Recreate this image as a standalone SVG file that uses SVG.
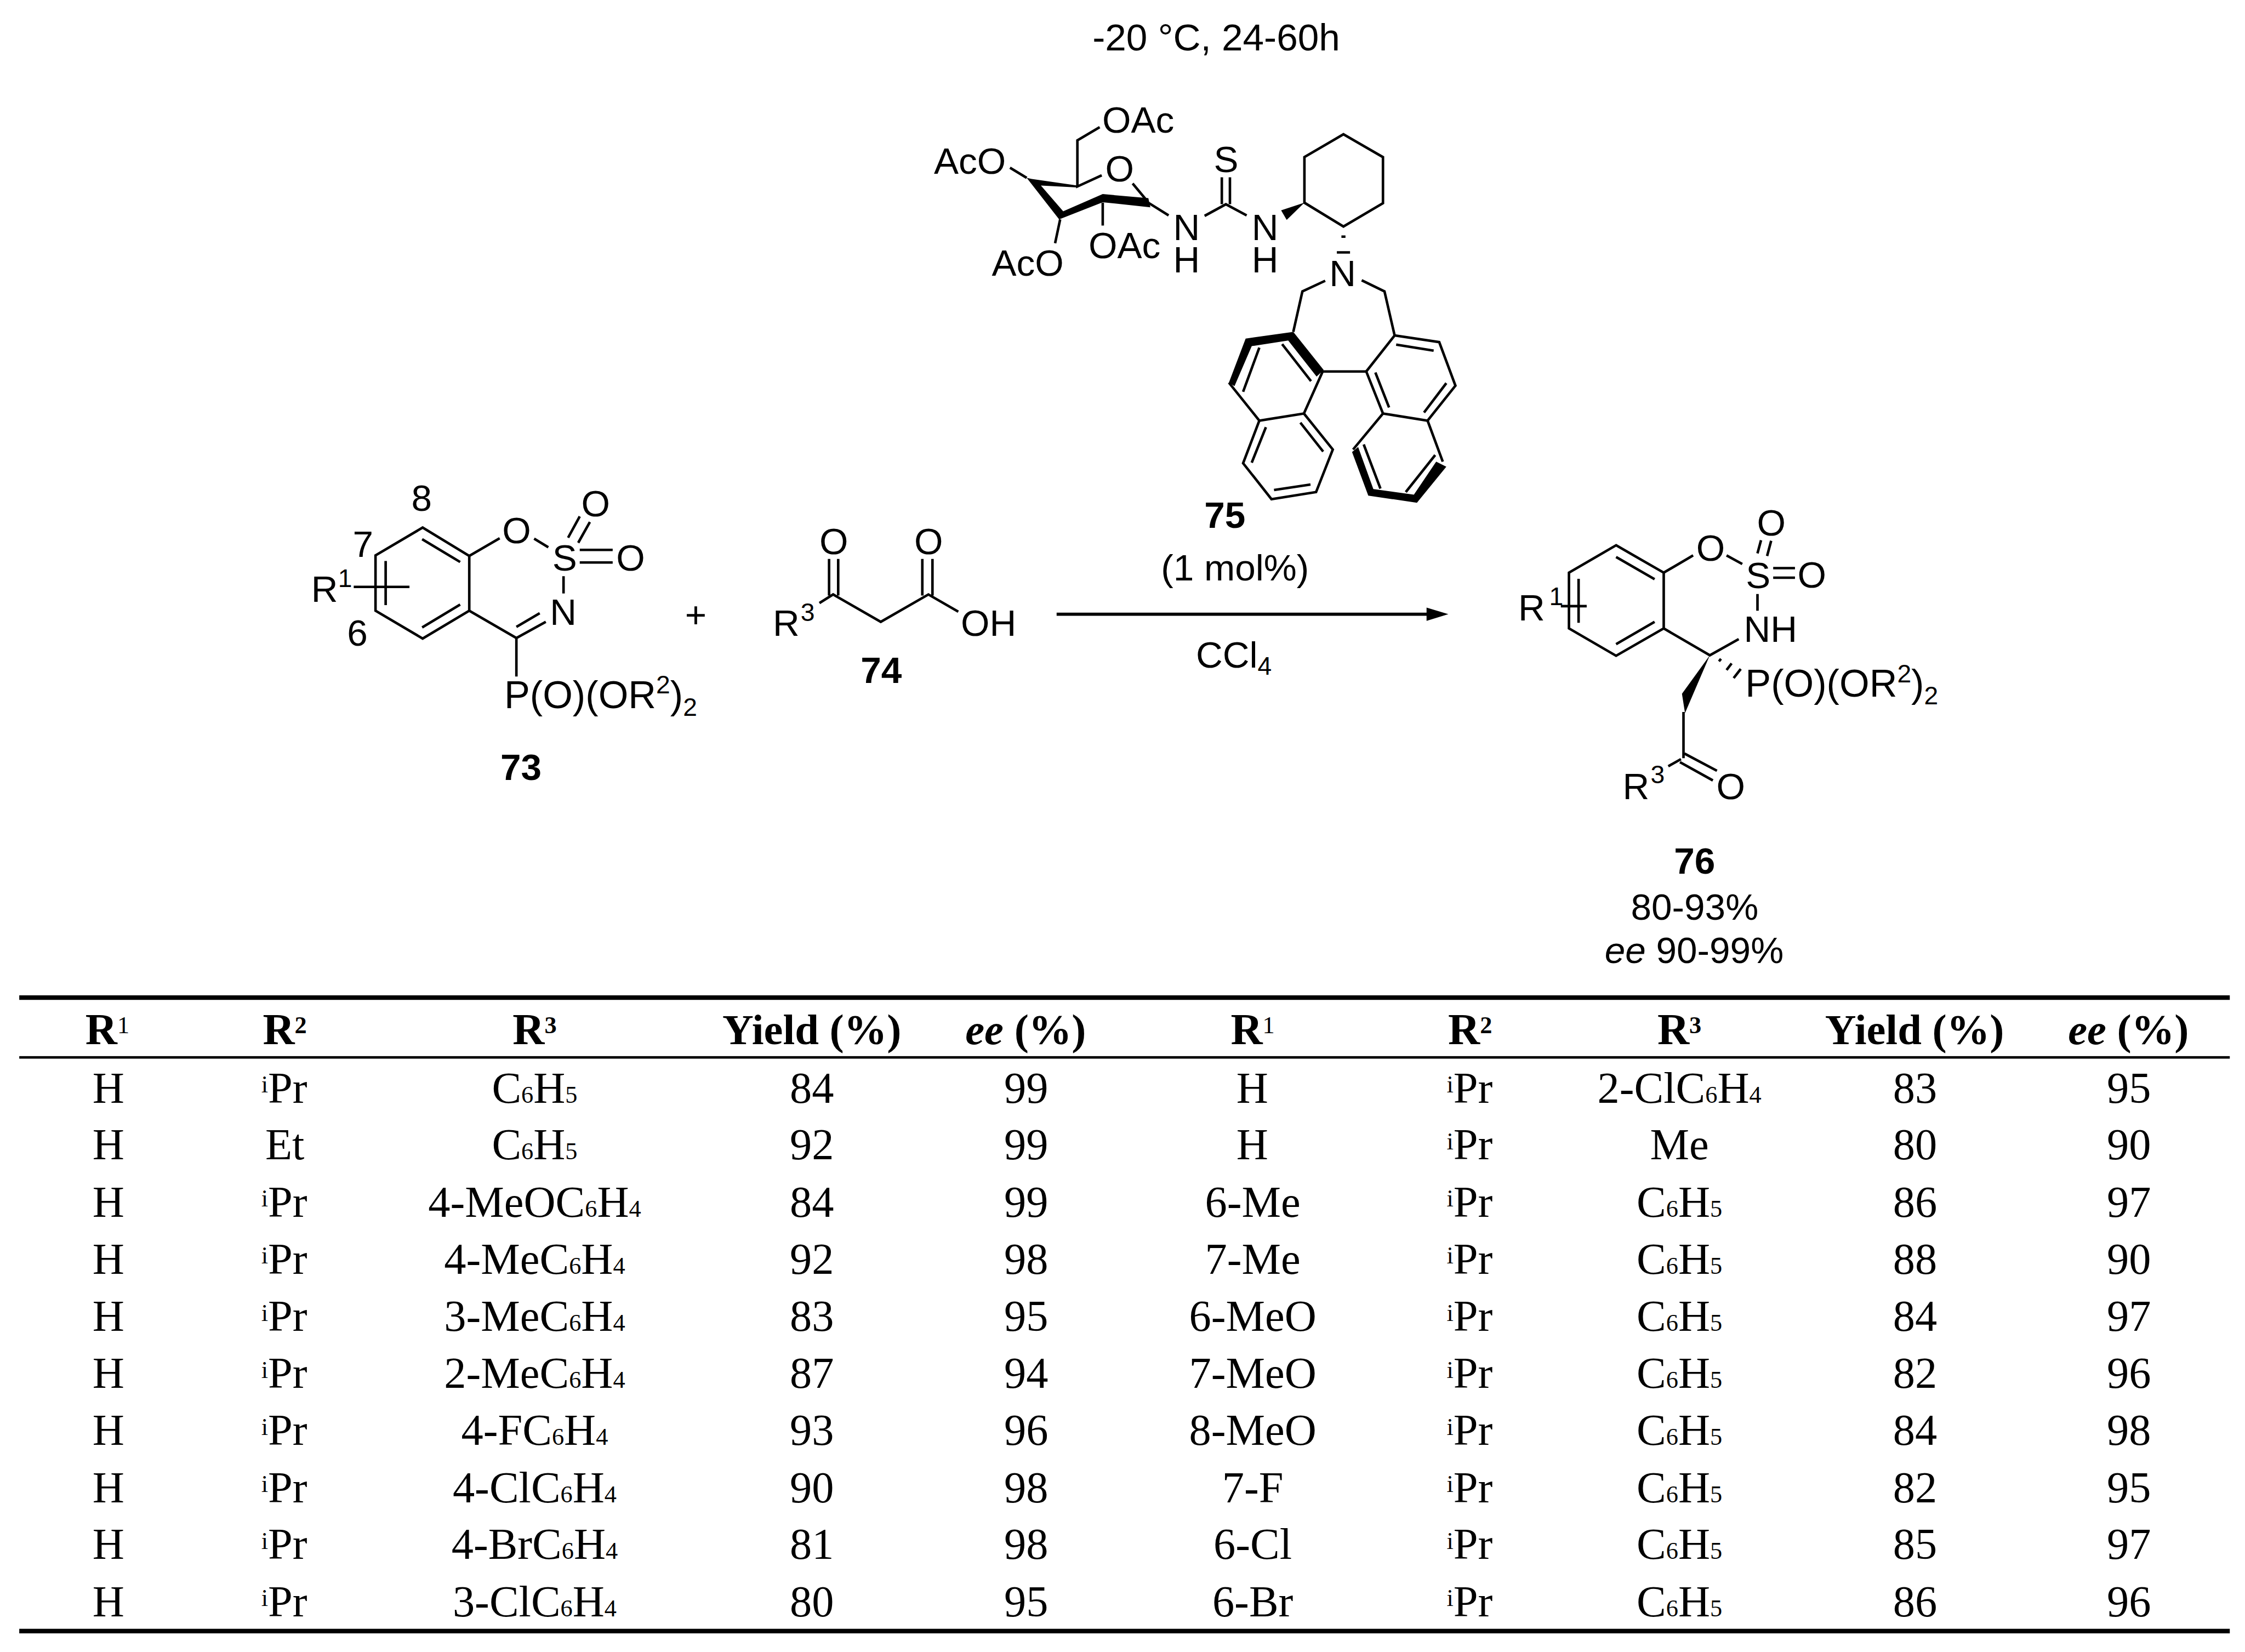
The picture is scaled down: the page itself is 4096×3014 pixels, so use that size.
<svg xmlns="http://www.w3.org/2000/svg" width="4096" height="3014" viewBox="0 0 4096 3014">
<style>
text{fill:#000}
.m text{font-family:"Liberation Sans",Arial,sans-serif;font-size:73px}
.m .bd{font-weight:bold}
.m .it{font-style:italic}
.m .pf{font-size:76px}
.m .sp{font-size:50px}
.m path{fill:none;stroke:#000;stroke-width:5;stroke-linejoin:miter;stroke-linecap:butt}
.m polygon{fill:#000;stroke:none}
.t text{font-family:"Liberation Serif","Times New Roman",serif;font-size:87px;text-anchor:middle}
.t .h{font-weight:bold}
.t .hw{font-weight:bold;font-size:85px}
.t .s{font-size:48px;font-weight:normal}
.t .sb{font-size:48px;font-weight:bold}
.t .i{font-style:italic}
.t rect{fill:#000}
</style>
<rect width="4096" height="3014" fill="#fff"/>
<g transform="scale(0.9246)">
<g id="conditions-top" class="m"><text x="2400" y="99" text-anchor="middle" style="font-size:75px">-20 °C, 24-60h</text></g>

<g id="catalyst-75" class="m">
<path d="M2170 251L2126 277V368L2174 346M2235 362L2264 397M2266 400L2306 425M2176 400V445M2092 433L2082 480M2026 351L1993 331"/>
<polygon points="2126,366 2036,353 2026,351 2090,433 2176,399 2270,409 2266,391 2176,383 2098,417 2054,366 2126,370"/>
<path d="M2377 426L2419 403L2460 425M2411 350V403M2427 350V403"/>
<polygon points="2574,400 2528,415 2539,434"/>
<path d="M2574 400V310L2651 265L2729 310V401L2651 447L2574 400Z"/>
<path d="M2647 467H2655M2638 498H2664" style="stroke-width:5"/>
<path d="M2615 554L2570 575L2552 655M2687 553L2732 575L2752 662"/>
<path d="M2425 755L2485 830L2573 816L2610 733H2696M2530 679L2587 752M2485 686L2453 773"/>
<polygon points="2425,755 2458,668 2552,655 2612,730 2598,743 2542,672 2470,683 2436,762"/>
<path d="M2573 816L2630 887L2597 971L2509 985L2453 914L2485 830M2566 834L2611 891M2498 843L2470 913M2514 967L2586 956"/>
<path d="M2696 733L2752 662L2840 675L2872 761L2817 830L2729 816L2696 733M2755 680L2829 692M2854 756L2810 814M2714 735L2741 804"/>
<path d="M2670 887L2729 816M2847 911L2817 830M2691 877L2724 964M2832 898L2774 971"/>
<polygon points="2668,892 2700,978 2796,992 2854,921 2834,911 2790,976 2710,965 2680,882"/>
<text x="2175" y="262">OAc</text>
<text x="2181" y="358">O</text>
<text x="1843" y="343">AcO</text>
<text x="1957" y="544">AcO</text>
<text x="2148" y="509">OAc</text>
<text x="2315" y="474">N<tspan x="2315" dy="63">H</tspan></text>
<text x="2470" y="474">N<tspan x="2470" dy="63">H</tspan></text>
<text x="2395" y="340">S</text>
<text x="2623" y="565">N</text>
<text x="2417" y="1042" text-anchor="middle" class="bd">75</text>
<text x="2437" y="1145" text-anchor="middle">(1 mol%)</text>
</g>

<g id="compound-73" class="m">
<path d="M834 1041L926 1097V1205L834 1260L741 1205V1096ZM833 1064L908 1109M833 1238L908 1193M761 1107V1194M698 1158H808"/>
<path d="M926 1097L986 1062M1054 1063L1082 1080M1112 1137V1171M1144 1019L1121 1061M1164 1030L1141 1071M1144 1085H1209M1144 1110H1209M926 1205L1019 1259L1077 1227M1019 1237L1065 1210M1019 1259V1335"/>
<text x="832" y="1008" text-anchor="middle">8</text>
<text x="696" y="1099">7</text>
<text x="685" y="1274">6</text>
<text x="614" y="1187">R</text><text x="667" y="1158" class="sp">1</text>
<text x="991" y="1072">O</text>
<text x="1090" y="1126">S</text>
<text x="1085" y="1233">N</text>
<text x="1147" y="1019">O</text>
<text x="1216" y="1126">O</text>
<text x="995" y="1397" class="pf">P(O)(OR<tspan class="sp" dy="-29">2</tspan><tspan dy="29">)</tspan><tspan class="sp" dy="15">2</tspan></text>
<text x="1028" y="1539" text-anchor="middle" class="bd">73</text>
</g>

<g id="plus" class="m"><text x="1373" y="1238" text-anchor="middle">+</text></g>

<g id="compound-74" class="m">
<path d="M1617 1190L1644 1173L1738 1227L1832 1173L1891 1207M1636 1103V1175M1654 1103V1175M1820 1103V1175M1840 1103V1175"/>
<text x="1525" y="1255">R</text><text x="1580" y="1225" class="sp">3</text>
<text x="1617" y="1093">O</text>
<text x="1804" y="1093">O</text>
<text x="1896" y="1255">OH</text>
<text x="1739" y="1348" text-anchor="middle" class="bd">74</text>
</g>

<g id="connectors" class="m">
<path d="M2085 1212H2820" style="stroke-width:6"/>
<polygon points="2858,1212 2815,1199 2815,1225"/>
</g>

<g id="conditions-solvent" class="m"><text x="2360" y="1317">CCl<tspan class="sp" dy="14">4</tspan></text></g>

<g id="compound-76" class="m">
<path d="M3189 1076L3283 1130V1240L3189 1294L3096 1240V1130ZM3189 1099L3265 1143M3189 1271L3265 1227M3115 1142V1229M3080 1196H3131"/>
<path d="M3283 1130L3341 1096M3407 1096L3438 1113M3468 1172V1205M3475 1066L3468 1092M3495 1067L3487 1097M3499 1121H3542M3499 1140H3542M3283 1240L3374 1293L3431 1261"/>
<path d="M3392 1305L3396 1300M3407 1322L3417 1309M3421 1338L3435 1320"/>
<polygon points="3374,1293 3319,1369 3325,1407"/>
<path d="M3322 1405V1496M3315 1504L3380 1540M3324 1487L3388 1521M3317 1498L3292 1512"/>
<text x="2996" y="1224">R</text><text x="3057" y="1194" class="sp">1</text>
<text x="3347" y="1106">O</text>
<text x="3445" y="1160">S</text>
<text x="3441" y="1266">NH</text>
<text x="3467" y="1057">O</text>
<text x="3547" y="1159">O</text>
<text x="3444" y="1375" class="pf">P(O)(OR<tspan class="sp" dy="-29">2</tspan><tspan dy="29">)</tspan><tspan class="sp" dy="15">2</tspan></text>
<text x="3202" y="1577">R</text><text x="3257" y="1546" class="sp">3</text>
<text x="3387" y="1577">O</text>
<text x="3344" y="1724" text-anchor="middle" class="bd">76</text>
<text x="3344" y="1815" text-anchor="middle">80-93%</text>
<text x="3343" y="1900" text-anchor="middle"><tspan class="it">ee</tspan> 90-99%</text>
</g>

<g id="table" class="t">
<rect x="38" y="1964" width="4362" height="9"/>
<rect x="38" y="2084" width="4362" height="5"/>
<rect x="38" y="3214" width="4362" height="9"/>
<g id="header">
<text class="h" x="212" y="2060">R<tspan class="s" dy="-21">1</tspan></text>
<text class="h" x="562" y="2060">R<tspan class="sb" dy="-21">2</tspan></text>
<text class="h" x="1055" y="2060">R<tspan class="sb" dy="-21">3</tspan></text>
<text class="hw" x="1602" y="2060">Yield (%)</text>
<text class="hw" x="2024" y="2060"><tspan class="i">ee</tspan> (%)</text>
<text class="h" x="2472" y="2060">R<tspan class="s" dy="-21">1</tspan></text>
<text class="h" x="2901" y="2060">R<tspan class="sb" dy="-21">2</tspan></text>
<text class="h" x="3314" y="2060">R<tspan class="sb" dy="-21">3</tspan></text>
<text class="hw" x="3778" y="2060">Yield (%)</text>
<text class="hw" x="4200" y="2060"><tspan class="i">ee</tspan> (%)</text>
</g>
<g id="row-1"><text x="214" y="2176">H</text><text x="561" y="2176"><tspan class="s" dy="-20">i</tspan><tspan dy="20">Pr</tspan></text><text x="1055" y="2176">C<tspan class="s">6</tspan>H<tspan class="s">5</tspan></text><text x="1602" y="2176">84</text><text x="2025" y="2176">99</text><text x="2471" y="2176">H</text><text x="2900" y="2176"><tspan class="s" dy="-20">i</tspan><tspan dy="20">Pr</tspan></text><text x="3314" y="2176">2-ClC<tspan class="s">6</tspan>H<tspan class="s">4</tspan></text><text x="3779" y="2176">83</text><text x="4201" y="2176">95</text></g>
<g id="row-2"><text x="214" y="2288">H</text><text x="562" y="2288">Et</text><text x="1055" y="2288">C<tspan class="s">6</tspan>H<tspan class="s">5</tspan></text><text x="1602" y="2288">92</text><text x="2025" y="2288">99</text><text x="2471" y="2288">H</text><text x="2900" y="2288"><tspan class="s" dy="-20">i</tspan><tspan dy="20">Pr</tspan></text><text x="3314" y="2288">Me</text><text x="3779" y="2288">80</text><text x="4201" y="2288">90</text></g>
<g id="row-3"><text x="214" y="2401">H</text><text x="561" y="2401"><tspan class="s" dy="-20">i</tspan><tspan dy="20">Pr</tspan></text><text x="1055" y="2401">4-MeOC<tspan class="s">6</tspan>H<tspan class="s">4</tspan></text><text x="1602" y="2401">84</text><text x="2025" y="2401">99</text><text x="2472" y="2401">6-Me</text><text x="2900" y="2401"><tspan class="s" dy="-20">i</tspan><tspan dy="20">Pr</tspan></text><text x="3314" y="2401">C<tspan class="s">6</tspan>H<tspan class="s">5</tspan></text><text x="3779" y="2401">86</text><text x="4201" y="2401">97</text></g>
<g id="row-4"><text x="214" y="2513">H</text><text x="561" y="2513"><tspan class="s" dy="-20">i</tspan><tspan dy="20">Pr</tspan></text><text x="1055" y="2513">4-MeC<tspan class="s">6</tspan>H<tspan class="s">4</tspan></text><text x="1602" y="2513">92</text><text x="2025" y="2513">98</text><text x="2472" y="2513">7-Me</text><text x="2900" y="2513"><tspan class="s" dy="-20">i</tspan><tspan dy="20">Pr</tspan></text><text x="3314" y="2513">C<tspan class="s">6</tspan>H<tspan class="s">5</tspan></text><text x="3779" y="2513">88</text><text x="4201" y="2513">90</text></g>
<g id="row-5"><text x="214" y="2626">H</text><text x="561" y="2626"><tspan class="s" dy="-20">i</tspan><tspan dy="20">Pr</tspan></text><text x="1055" y="2626">3-MeC<tspan class="s">6</tspan>H<tspan class="s">4</tspan></text><text x="1602" y="2626">83</text><text x="2025" y="2626">95</text><text x="2472" y="2626">6-MeO</text><text x="2900" y="2626"><tspan class="s" dy="-20">i</tspan><tspan dy="20">Pr</tspan></text><text x="3314" y="2626">C<tspan class="s">6</tspan>H<tspan class="s">5</tspan></text><text x="3779" y="2626">84</text><text x="4201" y="2626">97</text></g>
<g id="row-6"><text x="214" y="2739">H</text><text x="561" y="2739"><tspan class="s" dy="-20">i</tspan><tspan dy="20">Pr</tspan></text><text x="1055" y="2739">2-MeC<tspan class="s">6</tspan>H<tspan class="s">4</tspan></text><text x="1602" y="2739">87</text><text x="2025" y="2739">94</text><text x="2472" y="2739">7-MeO</text><text x="2900" y="2739"><tspan class="s" dy="-20">i</tspan><tspan dy="20">Pr</tspan></text><text x="3314" y="2739">C<tspan class="s">6</tspan>H<tspan class="s">5</tspan></text><text x="3779" y="2739">82</text><text x="4201" y="2739">96</text></g>
<g id="row-7"><text x="214" y="2851">H</text><text x="561" y="2851"><tspan class="s" dy="-20">i</tspan><tspan dy="20">Pr</tspan></text><text x="1055" y="2851">4-FC<tspan class="s">6</tspan>H<tspan class="s">4</tspan></text><text x="1602" y="2851">93</text><text x="2025" y="2851">96</text><text x="2472" y="2851">8-MeO</text><text x="2900" y="2851"><tspan class="s" dy="-20">i</tspan><tspan dy="20">Pr</tspan></text><text x="3314" y="2851">C<tspan class="s">6</tspan>H<tspan class="s">5</tspan></text><text x="3779" y="2851">84</text><text x="4201" y="2851">98</text></g>
<g id="row-8"><text x="214" y="2964">H</text><text x="561" y="2964"><tspan class="s" dy="-20">i</tspan><tspan dy="20">Pr</tspan></text><text x="1055" y="2964">4-ClC<tspan class="s">6</tspan>H<tspan class="s">4</tspan></text><text x="1602" y="2964">90</text><text x="2025" y="2964">98</text><text x="2472" y="2964">7-F</text><text x="2900" y="2964"><tspan class="s" dy="-20">i</tspan><tspan dy="20">Pr</tspan></text><text x="3314" y="2964">C<tspan class="s">6</tspan>H<tspan class="s">5</tspan></text><text x="3779" y="2964">82</text><text x="4201" y="2964">95</text></g>
<g id="row-9"><text x="214" y="3076">H</text><text x="561" y="3076"><tspan class="s" dy="-20">i</tspan><tspan dy="20">Pr</tspan></text><text x="1055" y="3076">4-BrC<tspan class="s">6</tspan>H<tspan class="s">4</tspan></text><text x="1602" y="3076">81</text><text x="2025" y="3076">98</text><text x="2472" y="3076">6-Cl</text><text x="2900" y="3076"><tspan class="s" dy="-20">i</tspan><tspan dy="20">Pr</tspan></text><text x="3314" y="3076">C<tspan class="s">6</tspan>H<tspan class="s">5</tspan></text><text x="3779" y="3076">85</text><text x="4201" y="3076">97</text></g>
<g id="row-10"><text x="214" y="3189">H</text><text x="561" y="3189"><tspan class="s" dy="-20">i</tspan><tspan dy="20">Pr</tspan></text><text x="1055" y="3189">3-ClC<tspan class="s">6</tspan>H<tspan class="s">4</tspan></text><text x="1602" y="3189">80</text><text x="2025" y="3189">95</text><text x="2472" y="3189">6-Br</text><text x="2900" y="3189"><tspan class="s" dy="-20">i</tspan><tspan dy="20">Pr</tspan></text><text x="3314" y="3189">C<tspan class="s">6</tspan>H<tspan class="s">5</tspan></text><text x="3779" y="3189">86</text><text x="4201" y="3189">96</text></g>
</g>
</g>
</svg>
